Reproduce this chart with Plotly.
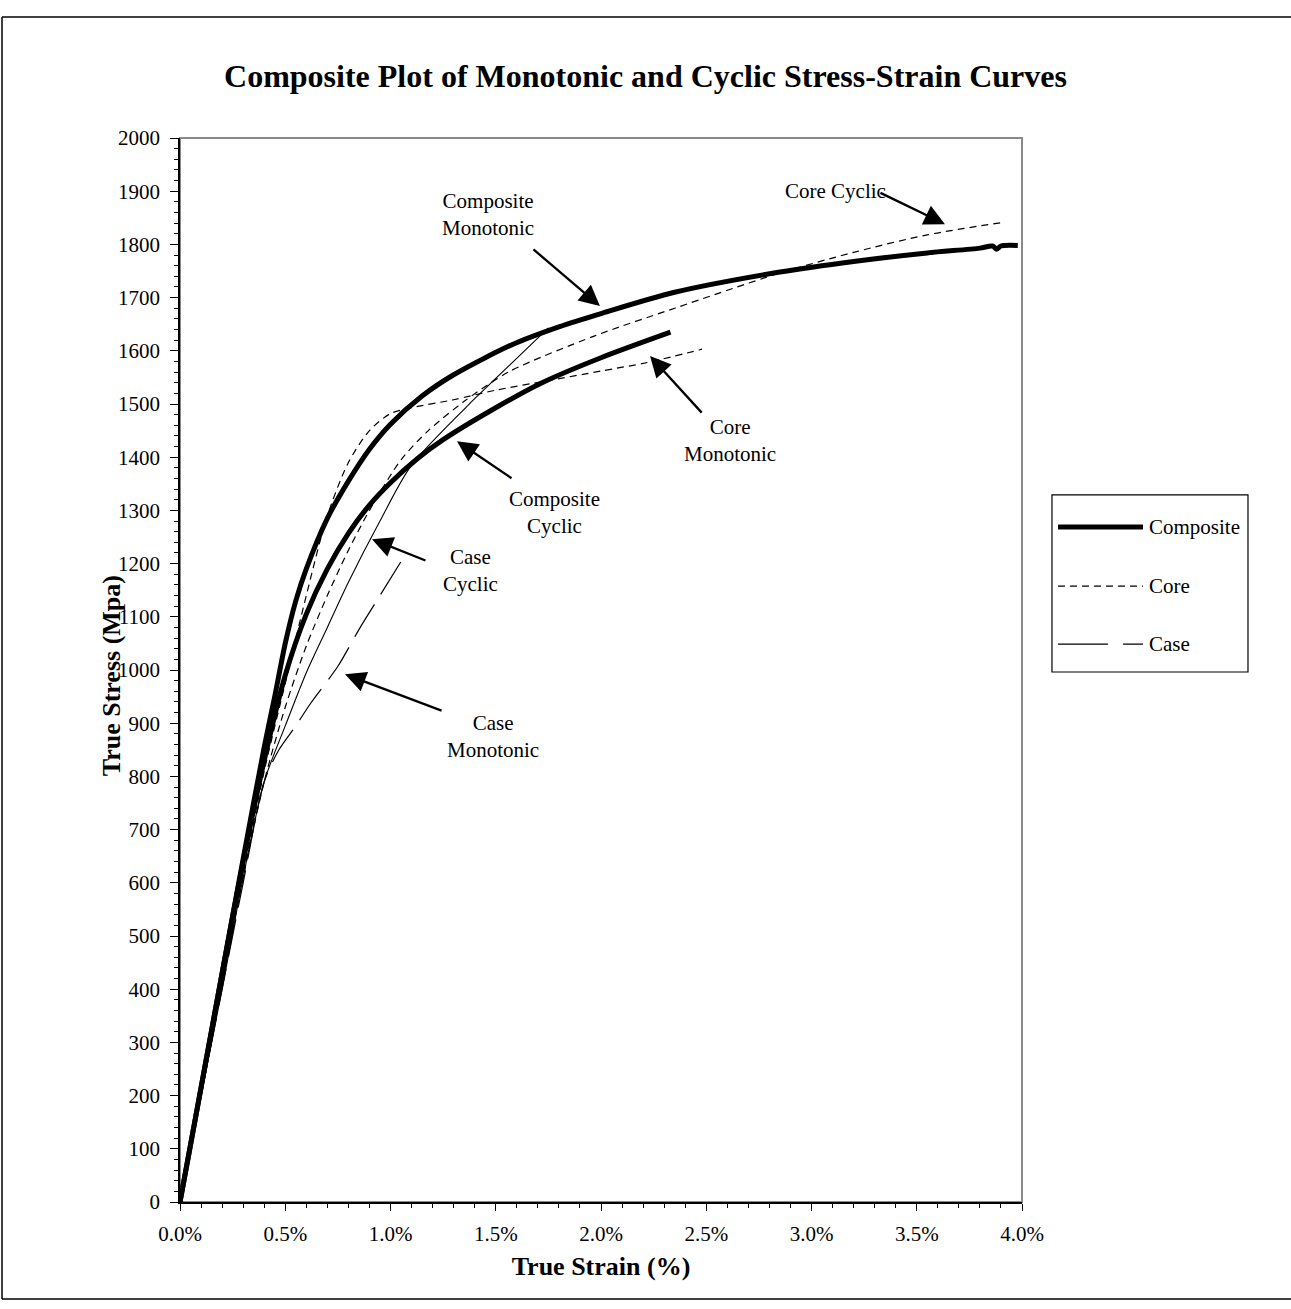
import plotly.graph_objects as go

# True strain (%) and true stress (MPa) for each measured curve
comp_mono_strain = [0.0, 0.1, 0.2, 0.3, 0.4, 0.45, 0.5, 0.55, 0.6, 0.7, 0.8, 0.9, 1.0, 1.15, 1.3,
                    1.58, 1.8, 2.0, 2.35, 2.85, 3.2, 3.55, 3.8, 3.86, 3.88, 3.9, 3.98]
comp_mono_stress = [0, 215, 430, 645, 855, 950, 1050, 1130, 1190, 1285, 1355, 1415, 1462, 1515, 1555,
                    1612, 1645, 1670, 1710, 1748, 1768, 1784, 1793, 1797, 1791, 1797, 1798]

comp_cyc_strain = [0.0, 0.1, 0.2, 0.3, 0.4, 0.5, 0.6, 0.7, 0.8, 0.9, 1.0, 1.13,
                   1.25, 1.5, 1.72, 2.0, 2.33]
comp_cyc_stress = [0, 215, 430, 640, 830, 990, 1105, 1190, 1257, 1310, 1352, 1398,
                   1433, 1493, 1540, 1587, 1635]

core_mono_strain = [0.0, 0.1, 0.2, 0.3, 0.4, 0.5, 0.6, 0.7, 0.8, 0.9, 1.0, 1.1,
                    1.3, 1.5, 1.75, 2.0, 2.22, 2.48]
core_mono_stress = [0, 205, 410, 615, 810, 975, 1140, 1290, 1390, 1450, 1482, 1493,
                    1508, 1526, 1544, 1562, 1578, 1603]

core_cyc_strain = [0.0, 0.1, 0.2, 0.3, 0.4, 0.5, 0.6, 0.7, 0.8, 0.9, 1.05, 1.18, 1.35, 1.56,
                   1.97, 2.35, 2.84, 3.2, 3.55, 3.92]
core_cyc_stress = [0, 205, 410, 610, 790, 930, 1045, 1140, 1225, 1300, 1395, 1450, 1505, 1560,
                   1628, 1680, 1745, 1785, 1818, 1842]

case_cyc_strain = [0.0, 0.1, 0.2, 0.3, 0.4, 0.5, 0.6, 0.7, 0.8, 0.95, 1.1, 1.4, 1.5, 1.75]
case_cyc_stress = [0, 200, 400, 610, 790, 895, 995, 1080, 1165, 1280, 1385, 1510, 1548, 1643]

case_mono_strain = [0.0, 0.1, 0.2, 0.3, 0.4, 0.47, 0.55, 0.62, 0.75, 0.85, 0.95, 1.05]
case_mono_stress = [0, 200, 400, 600, 790, 850, 895, 937, 1007, 1076, 1140, 1204]

x_ticks = [0.0, 0.5, 1.0, 1.5, 2.0, 2.5, 3.0, 3.5, 4.0]
y_ticks = list(range(0, 2001, 100))

SERIF = "Liberation Serif, Times New Roman, serif"

composite_line = dict(color="black", width=5)
core_line = dict(color="black", width=1.2, dash="7px,5px")
case_solid_line = dict(color="black", width=1.1)
case_dash_line = dict(color="black", width=1.2, dash="38px,12px")

fig = go.Figure()
curves = [
    ("Case Monotonic", case_mono_strain, case_mono_stress, case_dash_line),
    ("Case Cyclic", case_cyc_strain, case_cyc_stress, case_solid_line),
    ("Core Monotonic", core_mono_strain, core_mono_stress, core_line),
    ("Core Cyclic", core_cyc_strain, core_cyc_stress, core_line),
    ("Composite Cyclic", comp_cyc_strain, comp_cyc_stress, composite_line),
    ("Composite Monotonic", comp_mono_strain, comp_mono_stress, composite_line),
]
for name, xs, ys, ln in curves:
    fig.add_trace(go.Scatter(x=xs, y=ys, mode="lines", name=name,
                             line=dict(ln, shape="spline", smoothing=0.8),
                             showlegend=False))

# Curve labels with pointer arrows
labels = [
    ("Composite<br>Monotonic", 1.463, 1857, 1.995, 1684, -68, -58),
    ("Core Cyclic", 3.112, 1900, 3.634, 1838, -66, -32),
    ("Core<br>Monotonic", 2.613, 1432, 2.233, 1590, 53, 58),
    ("Composite<br>Cyclic", 1.781, 1296, 1.316, 1430, 56, 38),
    ("Case<br>Cyclic", 1.378, 1187, 0.912, 1246, 55, 22),
    ("Case<br>Monotonic", 1.487, 875, 0.784, 992, 98, 37),
]
for text, tx, ty, hx, hy, ax, ay in labels:
    fig.add_annotation(x=tx, y=ty, text=text, showarrow=False,
                       font=dict(family=SERIF, size=21, color="black"))
    fig.add_annotation(x=hx, y=hy, text="", showarrow=True, ax=ax, ay=ay,
                       arrowhead=2, arrowsize=1.8, arrowwidth=2.3, arrowcolor="black")

# Legend box drawn beside the plot area
fig.add_shape(type="rect", xref="paper", yref="paper", x0=1.0356, x1=1.2684,
              y0=0.4981, y1=0.6645, line=dict(color="black", width=1.2))
legend_rows = [("Composite", 0.6344, composite_line),
               ("Core", 0.5789, core_line),
               ("Case", 0.5244, dict(color="black", width=1.2, dash="50px,15px"))]
for text, yy, ln in legend_rows:
    fig.add_shape(type="line", xref="paper", yref="paper", x0=1.0428, x1=1.1437,
                  y0=yy, y1=yy, line=ln)
    fig.add_annotation(xref="paper", yref="paper", x=1.1490, y=yy, text=text,
                       showarrow=False, xanchor="left",
                       font=dict(family=SERIF, size=21, color="black"))

# Plot area frame (grey) and the outer page frame
fig.add_shape(type="rect", xref="paper", yref="paper", x0=0, x1=1, y0=0, y1=1,
              line=dict(color="#8a8a8a", width=2), layer="below")
for x0, y0, x1, y1 in [(-0.2114, 1.1137, 1.3195, 1.1137),
                       (-0.2114, 1.1137, -0.2114, -0.0912),
                       (-0.2114, -0.0912, 1.3195, -0.0912)]:
    fig.add_shape(type="line", xref="paper", yref="paper", x0=x0, y0=y0, x1=x1, y1=y1,
                  line=dict(color="black", width=1.5))

# Vertical axis title
fig.add_annotation(xref="paper", yref="paper", x=-0.082, y=0.495, textangle=-90,
                   xanchor="center", yanchor="middle",
                   text="<b>True Stress (Mpa)</b>", showarrow=False,
                   font=dict(family=SERIF, size=26, color="black"))

fig.update_layout(
    width=1291, height=1309,
    margin=dict(l=180, r=269, t=138, b=107),
    paper_bgcolor="white", plot_bgcolor="white",
    font=dict(family=SERIF, color="black"),
    title=dict(text="<b>Composite Plot of Monotonic and Cyclic Stress-Strain Curves</b>",
               x=0.5, xref="container", xanchor="center",
               y=1 - 76 / 1309, yref="container", yanchor="middle",
               font=dict(family=SERIF, size=32, color="black")),
)
fig.update_xaxes(
    range=[0, 4.0], tickvals=x_ticks, ticktext=[f"{v:.1f}%" for v in x_ticks],
    showgrid=False, zeroline=False, showline=True, linecolor="black", linewidth=1.5,
    ticks="outside", ticklen=7, tickcolor="black", tickwidth=1,
    minor=dict(dtick=0.1, ticks="outside", ticklen=4, tickcolor="black"),
    tickfont=dict(family=SERIF, size=21, color="black"), ticklabelstandoff=5,
    title=dict(text="<b>True Strain (%)</b>", standoff=12,
               font=dict(family=SERIF, size=26, color="black")),
)
fig.update_yaxes(
    range=[0, 2000], tickvals=y_ticks,
    showgrid=False, zeroline=False, showline=True, linecolor="black", linewidth=1.5,
    ticks="outside", ticklen=8, tickcolor="black", tickwidth=1,
    minor=dict(dtick=20, ticks="outside", ticklen=4, tickcolor="black"),
    tickfont=dict(family=SERIF, size=21, color="black"), ticklabelstandoff=6,
)

fig.write_html("out.html")
